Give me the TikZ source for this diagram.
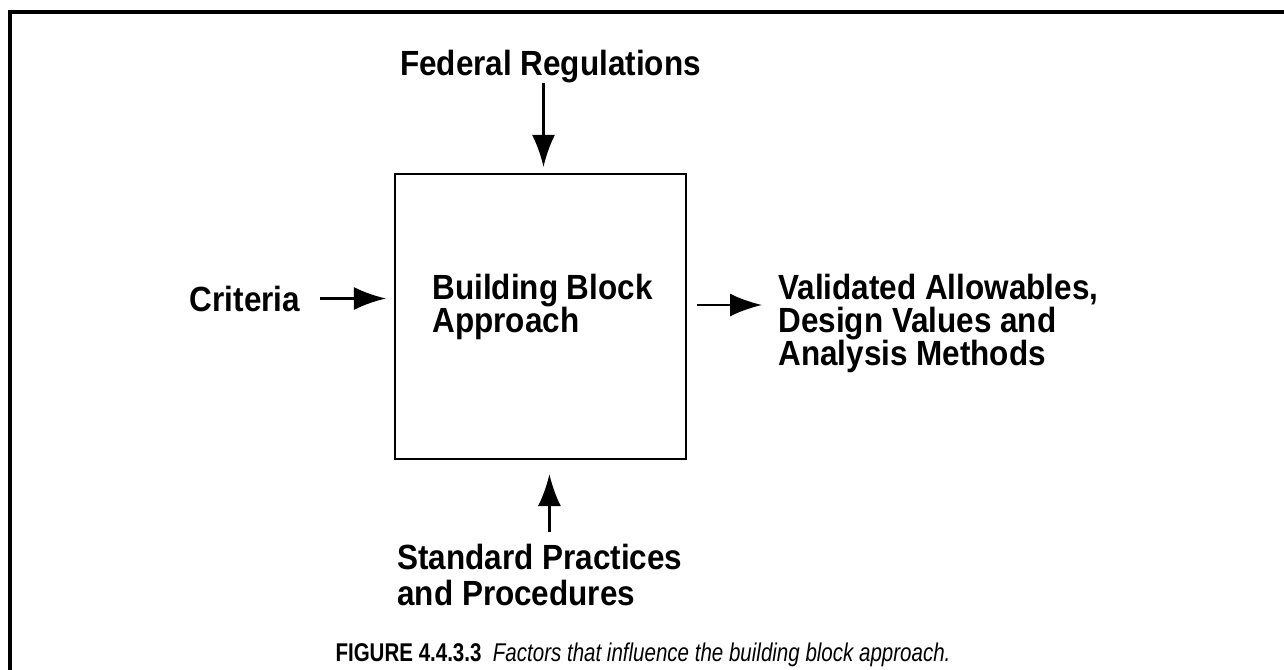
\documentclass[tikz,border=0pt]{standalone}
\usepackage{fontspec}
\setmainfont{Liberation Sans}
\newfontfamily\lblfont{Liberation Sans}[FakeStretch=0.9]
\newfontfamily\capfont{Liberation Sans}[FakeStretch=0.8]
\usetikzlibrary{positioning,arrows.meta,calc}
\tikzset{
  frame/.style={line width=1.8pt},
  blockbox/.style={draw, line width=1.2pt, minimum width=5.82cm,
                   minimum height=5.70cm, inner sep=0pt},
  lbl/.style={font=\lblfont\bfseries\fontsize{19.9}{18.8}\selectfont,
              align=left, inner sep=0pt},
  flow/.style={-{Latex[length=6.4mm,width=4.6mm]}, line width=1.4pt},
  capt/.style={font=\capfont\fontsize{14.6}{17}\selectfont, inner sep=0pt},
}

\begin{document}
\begin{tikzpicture}
\useasboundingbox (0,0) rectangle (25.68,13.38);

%% -- open frame, only left and top edges show ------------------------------
\draw[frame] (0.2,-0.2) -- (0.2,13.14) -- (26,13.14);

%% -- the block and its labels ----------------------------------------------
\node[blockbox] (box) at (10.81,7.05) {};
\node[lbl, anchor=west] (bba) at (8.64,7.25) {Building Block\\Approach};

\node[lbl, anchor=base] (fed) at (11.01,11.88) {Federal Regulations};
\node[lbl, anchor=base] (crit) at (4.9,7.16) {Criteria};
\node[lbl, anchor=north west] (val) at (15.56,7.9)
  {Validated Allowables,\\Design Values and\\Analysis Methods};
\node[lbl, anchor=north west, font=\lblfont\bfseries\fontsize{19.9}{20.5}\selectfont]
  (std) at (7.94,2.5) {Standard Practices\\and Procedures};

%% -- arrows into and out of the block --------------------------------------
\draw[flow, shorten >=1.2mm] ([xshift=-1.4mm]fed.south)
  -- ([xshift=-1.4mm]fed.south |- box.north);
\draw[flow, shorten <=4mm, shorten >=1.6mm] (crit.east) -- (crit.east -| box.west);
\draw[flow, shorten <=2.4mm, shorten >=2.8mm] ([xshift=1.9mm]std.north)
  -- ([xshift=1.9mm]std.north |- box.south);
\draw[flow, shorten <=2mm, shorten >=3.2mm] ([yshift=2.3mm]box.east)
  -- ([yshift=2.3mm]box.east -| val.west);

%% -- caption ---------------------------------------------------------------
\node[capt, anchor=base] (cap) at (12.86,0.16)
  {\textbf{FIGURE 4.4.3.3}\ \ \textit{Factors that influence the building block approach.}};

\end{tikzpicture}
\end{document}
